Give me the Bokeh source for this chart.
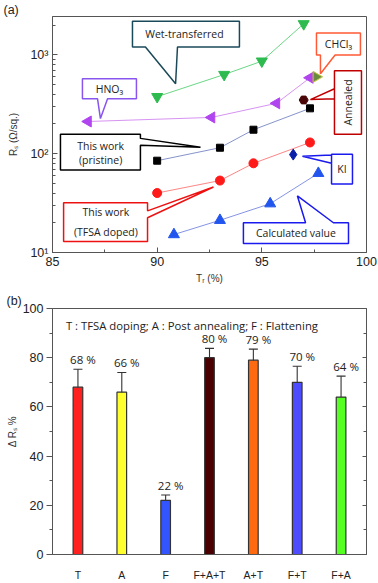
import math
from bokeh.plotting import figure
from bokeh.models import (Range1d, FixedTicker, LinearAxis, Whisker, ColumnDataSource,
                          FactorRange, TeeHead)
from bokeh.layouts import column
from bokeh.embed import file_html
from bokeh.resources import INLINE
from bokeh.core.properties import value

# ---------------- data (a) ----------------
wet_x = [90.0, 93.2, 95.0, 97.0]
wet_y = [378, 633, 865, 2065]
hno3_x = [86.7, 92.6, 95.7, 97.3]
hno3_y = [212, 233, 324, 587]
pristine_x = [90.0, 93.0, 94.6, 97.3]
pristine_y = [85, 115, 175, 288]
tfsa_x = [90.0, 93.0, 94.6, 97.3]
tfsa_y = [40, 53.5, 80, 130]
calc_x = [90.8, 93.0, 95.4, 97.7]
calc_y = [15.2, 21.2, 31.2, 63.4]
annealed_x = [97.0]
annealed_y = [350]
ki_x = [96.5]
ki_y = [98]
chcl3_x = [97.6]
chcl3_y = [600]

# ---------------- data (b) ----------------
cats = ["T", "A", "F", "F+A+T", "A+T", "F+T", "F+A"]
vals = [68, 66, 22, 80, 79, 70, 64]
err_hi = [75.3, 74.0, 24.2, 83.8, 83.5, 76.5, 72.5]
err_lo = [60.6, 57.7, 19.6, 76.2, 74.5, 63.3, 55.2]
pct_labels = ["68 %", "66 %", "22 %", "80 %", "79 %", "70 %", "64 %"]
bar_colors = ["#ff2020", "#ffff30", "#3355ff", "#4a0000", "#ff6a10", "#4d4dff", "#55ff22"]

TICK_FONT = "Liberation Sans"
ANN_FONT = "Open Sans"
Y_TOP = 2450

# ================= figure (a) =================
pa = figure(width=378, height=286, x_range=Range1d(85, 100), y_range=Range1d(10, Y_TOP),
            y_axis_type="log", output_backend="svg", toolbar_location=None,
            title="(a)",
            min_border_left=52, min_border_right=12, min_border_top=14, min_border_bottom=34)
pa.title.align = "left"
pa.title.offset = -49
pa.title.standoff = 0
pa.title.text_font = TICK_FONT
pa.title.text_font_size = "12.5px"
pa.title.text_font_style = "normal"
pa.title.text_color = "#222222"
pa.grid.visible = False
pa.outline_line_color = "#555555"
pa.background_fill_color = "white"

pa.xaxis.ticker = FixedTicker(ticks=[85, 90, 95, 100], minor_ticks=[87.5, 92.5, 97.5])
minor_log = [v * m for m in (10, 100) for v in range(2, 10)] + [2000]
pa.yaxis.ticker = FixedTicker(ticks=[10, 100, 1000], minor_ticks=minor_log)
pa.yaxis.major_label_overrides = {10: "10¹", 100: "10²", 1000: "10³"}
for ax in (pa.xaxis[0], pa.yaxis[0]):
    ax.major_tick_in = 5
    ax.major_tick_out = 0
    ax.minor_tick_in = 3
    ax.minor_tick_out = 0
    ax.axis_line_color = "#555555"
    ax.major_tick_line_color = "#555555"
    ax.minor_tick_line_color = "#555555"
    ax.major_label_text_font = TICK_FONT
    ax.major_label_text_font_size = "12.5px"
    ax.major_label_text_color = "#222222"
    ax.axis_label_text_font = TICK_FONT
    ax.axis_label_text_font_size = "10px"
    ax.axis_label_text_font_style = "normal"
    ax.axis_label_text_color = "#333333"
pa.xaxis.axis_label = "Tᵣ (%)"
pa.yaxis.axis_label = "Rₛ (Ω/sq.)"
pa.xaxis.major_label_standoff = 4
pa.xaxis.axis_label_standoff = 4
pa.yaxis.major_label_standoff = 4
pa.yaxis.axis_label_standoff = 8


def callout(x0, x1, y0, y1, side, b0, b1, tx, ty, color):
    # box in data coords (y0 bottom, y1 top); tail on given side
    if side == "bottom":
        xs = [x0, x1, x1, b1, tx, b0, x0]
        ys = [y1, y1, y0, y0, ty, y0, y0]
    elif side == "top":
        xs = [x0, b0, tx, b1, x1, x1, x0]
        ys = [y1, y1, ty, y1, y1, y0, y0]
    elif side == "left":
        xs = [x0, x1, x1, x0, x0, tx, x0]
        ys = [y1, y1, y0, y0, b1, ty, b0]
    else:  # right
        xs = [x0, x1, x1, tx, x1, x1, x0]
        ys = [y1, y1, b0, ty, b1, y0, y0]
    pa.patch(xs, ys, fill_color="white", line_color=color, line_width=1.5)


def txt(x, y, s, color="#222222", size="10.5px", angle=0.0):
    pa.text([x], [y], text=[s], text_font=value(ANN_FONT), text_font_size=size,
            text_color=color, text_align="center", text_baseline="middle", angle=angle)


# series lines + markers
pa.line(wet_x, wet_y, line_color="#44cc66", line_width=0.8)
pa.scatter(wet_x, wet_y, marker="inverted_triangle", size=11, color="#2dbb4f")
pa.line(hno3_x, hno3_y, line_color="#cc77ee", line_width=0.8)
pa.scatter(hno3_x, hno3_y, marker="triangle", angle=math.pi / 2, size=11, color="#b044ee")
pa.scatter(chcl3_x, chcl3_y, marker="triangle", angle=-math.pi / 2, size=11,
           fill_color="#6a8a40", line_color="#c8c840")
pa.line(pristine_x, pristine_y, line_color="#6677bb", line_width=0.8)
pa.scatter(pristine_x, pristine_y, marker="square", size=7, color="#000000")
pa.scatter(annealed_x, annealed_y, marker="hex", size=9, color="#4a0606")
pa.line(tfsa_x, tfsa_y, line_color="#ff6666", line_width=0.8)
pa.scatter(tfsa_x, tfsa_y, marker="circle", size=9, color="#ff1a1a")
pa.scatter(ki_x, ki_y, marker="diamond", size=11, color="#0a1fa8")
pa.line(calc_x, calc_y, line_color="#6677dd", line_width=0.8)
pa.scatter(calc_x, calc_y, marker="triangle", size=11, color="#2255ee")

# callouts
callout(88.82, 93.93, 1203, 2197, "bottom", 89.44, 90.97, 90.88, 511, "#1a4a5a")
txt(91.3, 1620, "Wet-transferred")
callout(97.61, 99.71, 1000, 1664, "bottom", 97.8, 98.5, 97.8, 644, "#ff5a36")
txt(98.66, 1290, "CHCl₃")
callout(98.47, 99.76, 157, 690, "left", 361, 455, 97.32, 353, "#c00000")
txt(99.12, 330, "Annealed", angle=math.pi / 2)
callout(86.43, 89.01, 361, 574, "bottom", 87.15, 87.63, 87.29, 227, "#8855ee")
txt(87.72, 455, "HNO₃")
callout(85.38, 89.2, 68.3, 157, "right", 143, 122, 92.07, 116, "#000000")
txt(87.3, 120, "This work")
txt(87.3, 86, "(pristine)")
callout(85.53, 89.54, 12.9, 31.8, "right", 26.4, 22.5, 92.69, 46, "#ee1111")
txt(87.55, 25.5, "This work")
txt(87.55, 16.2, "(TFSA doped)")
callout(98.33, 99.33, 49.4, 98.9, "left", 80, 97, 96.94, 94.4, "#1a1aee")
txt(98.83, 70, "KI")
callout(94.12, 99.14, 12.3, 20.0, "top", 97.09, 98.42, 96.70, 37.4, "#1a1aee")
txt(96.63, 15.7, "Calculated value")

# ================= figure (b) =================
pb = figure(width=378, height=297, x_range=FactorRange(factors=cats, range_padding=0.08,
                                                        range_padding_units="absolute"),
            y_range=Range1d(0, 100), output_backend="svg", toolbar_location=None,
            title="(b)",
            min_border_left=48, min_border_right=10, min_border_top=22, min_border_bottom=23)
pb.title.align = "left"
pb.title.offset = -46
pb.title.standoff = 2
pb.title.text_font = TICK_FONT
pb.title.text_font_size = "12.5px"
pb.title.text_font_style = "normal"
pb.title.text_color = "#222222"
pb.grid.visible = False
pb.outline_line_color = "#555555"

src = ColumnDataSource(dict(cats=cats, vals=vals, hi=err_hi, lo=err_lo,
                            lab=pct_labels, col=bar_colors))
pb.vbar(x="cats", top="vals", width=0.22, fill_color="col", line_color="#333333",
        line_width=1.2, source=src)
wh = Whisker(base="cats", upper="hi", lower="lo", source=src, line_color="#333333",
             line_width=1.1,
             upper_head=TeeHead(size=9, line_color="#333333", line_width=1.1),
             lower_head=TeeHead(size=9, line_color="#333333", line_width=1.1))
pb.add_layout(wh)
pb.text(x="cats", y="hi", text="lab", source=src, text_font=value(ANN_FONT),
        text_font_size="11.5px", text_color="#222222", text_align="center",
        text_baseline="bottom", x_offset=5, y_offset=-2)
pb.text(x=[cats[0]], y=[93], text=["T : TFSA doping; A : Post annealing; F : Flattening"],
        text_font=value(ANN_FONT), text_font_size="11.3px", text_color="#222222",
        text_align="left", text_baseline="middle", x_offset=-12)

yticks = [0, 20, 40, 60, 80, 100]
pb.yaxis.ticker = FixedTicker(ticks=yticks, minor_ticks=[10, 30, 50, 70, 90])
yl = pb.yaxis[0]
yl.major_tick_in = 0
yl.major_tick_out = 6
yl.minor_tick_in = 0
yl.minor_tick_out = 3
yl.axis_label = "Δ Rₛ %"
for ax in (pb.xaxis[0], yl):
    ax.axis_line_color = "#555555"
    ax.major_tick_line_color = "#555555"
    ax.minor_tick_line_color = "#555555"
    ax.major_label_text_font = TICK_FONT
    ax.major_label_text_color = "#222222"
    ax.axis_label_text_font = TICK_FONT
    ax.axis_label_text_font_size = "10px"
    ax.axis_label_text_font_style = "normal"
    ax.axis_label_text_color = "#333333"
yl.major_label_text_font_size = "12.5px"
yl.major_label_standoff = 3
yl.axis_label_standoff = 2
xb = pb.xaxis[0]
xb.major_label_text_font_size = "10.5px"
xb.major_tick_line_color = None
xb.major_label_standoff = 8

ry = LinearAxis(ticker=FixedTicker(ticks=yticks, minor_ticks=[10, 30, 50, 70, 90]),
                major_tick_in=4, major_tick_out=0, minor_tick_in=3, minor_tick_out=0,
                major_label_overrides={t: "" for t in yticks},
                axis_line_color="#555555",
                major_tick_line_color="#555555", minor_tick_line_color="#555555",
                major_label_standoff=0)
pb.add_layout(ry, "right")

layout = column(pa, pb, spacing=0)
open("out.html", "w").write(file_html(layout, INLINE))
